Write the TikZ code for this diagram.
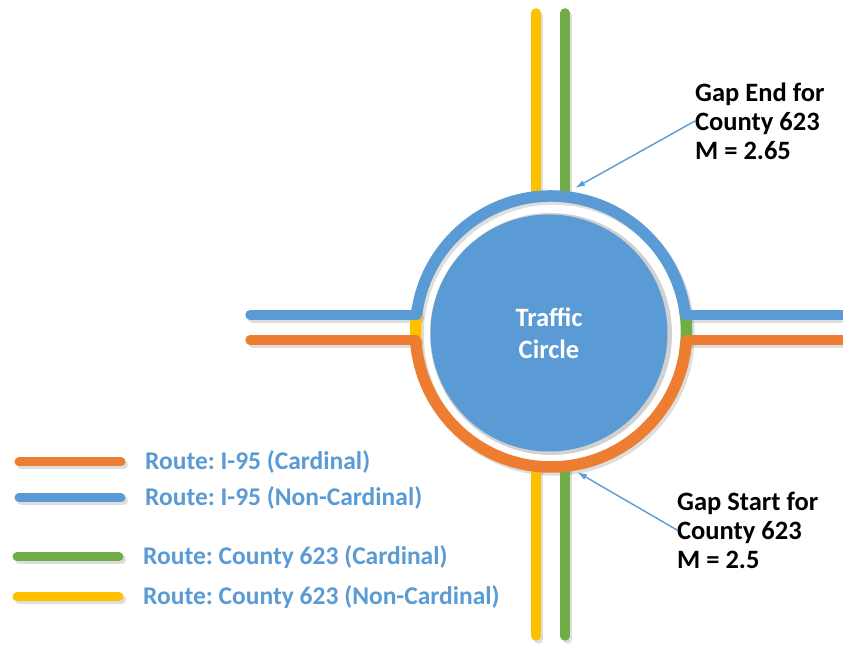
\documentclass[tikz,border=0pt]{standalone}
\usepackage{fontspec}
\setmainfont{Carlito}
\frenchspacing
\usetikzlibrary{arrows.meta}
\definecolor{cblue}{HTML}{5B9BD5}
\definecolor{corange}{HTML}{ED7D31}
\definecolor{cgreen}{HTML}{70AD47}
\definecolor{cyellow}{HTML}{FFC000}
\begin{document}
\begin{tikzpicture}[x=1pt,y=1pt,
  road/.style={line width=9.5pt, line cap=round},
  ringpart/.style={line width=11.5pt},
  legline/.style={line width=9pt, line cap=round},
  legtext/.style={text=cblue, font=\bfseries\fontsize{25.5}{28}\selectfont, anchor=base west, inner sep=0pt},
  note/.style={font=\bfseries\fontsize{26.5}{29}\selectfont, align=left, anchor=west, inner sep=0pt},
  callout/.style={draw=cblue, line width=1.4pt, -{Latex[length=10pt,width=6pt]}}]
\fill[white] (0,0) rectangle (843,647);
\path[use as bounding box] (0,0) rectangle (843,647);
% shadows
\begin{scope}[shift={(2.5,-3)}, draw=black, opacity=0.13]
  \draw[road] (536,634) -- (536,452);
  \draw[road] (565,634) -- (565,452);
  \draw[road] (536,179) -- (536,11);
  \draw[road] (565,179) -- (565,11);
  \draw[road] (250,332) -- (417,332);
  \draw[road] (250,307) -- (416,307);
  \draw[road] (685,332) -- (850,332);
  \draw[road] (686,307) -- (850,307);
  \draw[ringpart] (551,315.5) circle (135.5);
  \draw[legline] (19,185) -- (121,185);
  \draw[legline] (19,149) -- (121,149);
  \draw[legline] (17,90) -- (119,90);
  \draw[legline] (17,50) -- (119,50);
\end{scope}
% county 623 roads
\draw[road, cyellow] (536,634) -- (536,452);
\draw[road, cgreen] (565,634) -- (565,452);
\draw[road, cyellow] (536,179) -- (536,11);
\draw[road, cgreen] (565,179) -- (565,11);
% circle shadow and traffic circle
\fill[black, opacity=0.18] (551,313) circle (121);
\node[circle, fill=cblue, minimum size=237pt, inner sep=0pt, text=white, align=center,
      font=\bfseries\fontsize{26.5}{32}\selectfont] (tc) at (549,314) {Traffic\\Circle};
% junction pieces
\draw[ringpart, cyellow] (551,315.5) ++(170:135.5) arc[start angle=170, end angle=190, radius=135.5];
\draw[ringpart, cgreen] (551,315.5) ++(-10:135.5) arc[start angle=-10, end angle=10, radius=135.5];
% I-95 non-cardinal (blue)
\draw[road, cblue] (250,332) -- (417,332);
\draw[road, cblue] (685,332) -- (850,332);
\draw[ringpart, cblue] (551,315.5) ++(173:135.5) arc[start angle=173, end angle=7, radius=135.5];
% I-95 cardinal (orange)
\draw[road, corange] (250,307) -- (416,307);
\draw[road, corange] (686,307) -- (850,307);
\draw[ringpart, corange] (551,315.5) ++(183.6:135.5) arc[start angle=183.6, end angle=356.4, radius=135.5];
% legend
\draw[legline, corange] (19,185) -- (121,185);
\draw[legline, cblue] (19,149) -- (121,149);
\draw[legline, cgreen] (17,90) -- (119,90);
\draw[legline, cyellow] (17,50) -- (119,50);
\node[legtext] (l1) at (145,177) {Route: I-95 (Cardinal)};
\node[legtext] (l2) at (145,141) {Route: I-95 (Non-Cardinal)};
\node[legtext] (l3) at (143,82) {Route: County 623 (Cardinal)};
\node[legtext] (l4) at (143,42) {Route: County 623 (Non-Cardinal)};
% annotations
\node[note] (gapEnd) at (695,526) {Gap End for\\County 623\\M = 2.65};
\node[note] (gapStart) at (677,117) {Gap Start for\\County 623\\M = 2.5};
\coordinate (endTip) at (575,459);
\coordinate (startTip) at (577,175);
\draw[callout] (gapEnd.west) -- (endTip);
\draw[callout] (gapStart.west) -- (startTip);
\end{tikzpicture}
\end{document}
